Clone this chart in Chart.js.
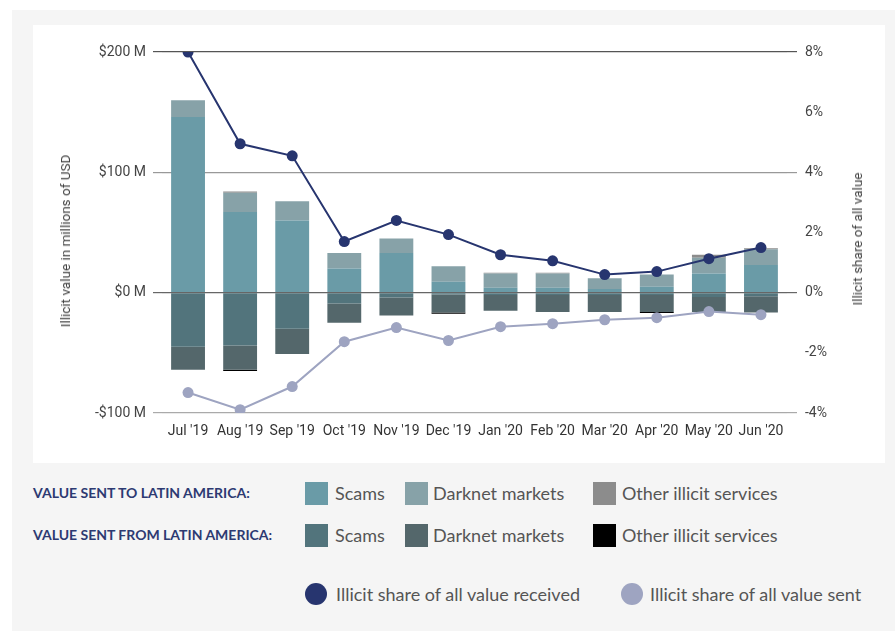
<!DOCTYPE html>
<html>
<head>
<meta charset="utf-8">
<script src="https://cdn.jsdelivr.net/npm/chart.js@4.4.1/dist/chart.umd.min.js"></script>
<style>
	body { margin: 0; background: #fff; width: 895px; height: 631px; overflow: hidden; position: relative; }
	#bg { position: absolute; left: 12px; top: 10px; width: 883px; height: 621px; background: #f5f5f5; }
	#panel { position: absolute; left: 33px; top: 25px; width: 852px; height: 438px; background: #fff; }
	.ytitle { position: absolute; font: 13.5px Roboto, sans-serif; color: #444; white-space: nowrap; transform: translate(-50%, -50%) rotate(-90deg); }
	.hdr { position: absolute; left: 33px; font: bold 14px Lato, sans-serif; color: #2d3a72; line-height: 16px; white-space: nowrap; }
	.sq { position: absolute; width: 23px; height: 23px; }
	.dot { position: absolute; width: 22px; height: 22px; border-radius: 50%; }
	.lbl { position: absolute; font: 18px Lato, sans-serif; color: #555; line-height: 20px; white-space: nowrap; }
</style>
</head>
<body>
<div id="bg"></div>
<div id="panel"><canvas id="valueChart"></canvas></div>
<div class="ytitle" style="left:65px; top:241px;">Illicit value in millions of USD</div>
<div class="ytitle" style="left:857px; top:239px;">Illicit share of all value</div>
<div id="legend"></div>
<script>
// 월별 라벨
var months = ["Jul '19", "Aug '19", "Sep '19", "Oct '19", "Nov '19", "Dec '19",
	"Jan '20", "Feb '20", "Mar '20", "Apr '20", "May '20", "Jun '20"];

// 라틴아메리카로 보낸 금액 (백만 USD)
var sentToScams = [146, 67, 60, 20, 33, 9, 4, 4, 3, 5, 16, 23];
var sentToDarknet = [14, 16, 16, 13, 12, 13, 12, 12, 9, 10, 13, 13];
var sentToOther = [0, 1, 0, 0, 0, 0, 0.5, 0.5, 0, 0, 2.5, 1];

// 라틴아메리카에서 보낸 금액 (음수로 표시)
var sentFromScams = [-45, -44, -30, -9, -4, -1.5, -2, -2, -2, -2, -3.5, -3];
var sentFromDarknet = [-19, -20, -21, -16, -15, -15, -13, -14, -14, -14, -12.5, -13.5];
var sentFromOther = [0, -1, 0, 0, 0, -1, 0, 0, 0, -1, 0, 0];

// 불법 비중 (%)
var shareReceived = [8.0, 4.95, 4.55, 1.7, 2.4, 1.93, 1.26, 1.06, 0.6, 0.7, 1.13, 1.5];
var shareSent = [-3.32, -3.89, -3.12, -1.63, -1.16, -1.59, -1.13, -1.03, -0.9, -0.83, -0.63, -0.73];

var leftTicks = [-100, 0, 100, 200];
var rightTicks = [-4, -2, 0, 2, 4, 6, 8];

var colors = {
	toScams: '#6a9ba7',
	toDarknet: '#87a2a8',
	toOther: '#8c8c8c',
	fromScams: '#52747c',
	fromDarknet: '#54676b',
	fromOther: '#000000',
	received: '#27356f',
	sent: '#9ea4c1'
};

function gridColor(v) {
	if (v === 200 || v === 8) return '#555';
	if (v === 0) return '#666';
	if (v === 100 || v === 4) return '#999';
	if (v === -100 || v === -4) return '#aaa';
	return 'transparent';
}

function bar(label, data, color) {
	return {
		type: 'bar', label: label, data: data, backgroundColor: color,
		stack: 'value', yAxisID: 'y', order: 2,
		barPercentage: 0.65, categoryPercentage: 1
	};
}

function line(label, data, color) {
	return {
		type: 'line', label: label, data: data, borderColor: color, backgroundColor: color,
		borderWidth: 2, pointRadius: 5.5, pointBorderWidth: 0, pointBackgroundColor: color,
		yAxisID: 'y1', order: 0, tension: 0
	};
}

function drawChart() {
	var chartArea = document.getElementById('valueChart').getContext('2d');
	var myChart = new Chart(chartArea, {
		data: {
			labels: months,
			datasets: [
				line('Illicit share of all value received', shareReceived, colors.received),
				line('Illicit share of all value sent', shareSent, colors.sent),
				bar('Scams (to)', sentToScams, colors.toScams),
				bar('Darknet markets (to)', sentToDarknet, colors.toDarknet),
				bar('Other illicit services (to)', sentToOther, colors.toOther),
				bar('Scams (from)', sentFromScams, colors.fromScams),
				bar('Darknet markets (from)', sentFromDarknet, colors.fromDarknet),
				bar('Other illicit services (from)', sentFromOther, colors.fromOther)
			]
		},
		options: {
			responsive: true,
			maintainAspectRatio: false,
			animation: false,
			layout: { padding: { left: 44, right: 0, top: 27, bottom: 0 } },
			plugins: { legend: { display: false }, tooltip: { enabled: false } },
			scales: {
				x: {
					offset: true,
					grid: { display: false, drawTicks: false },
					border: { display: false },
					ticks: { color: '#333', font: { family: 'Roboto', size: 14 }, padding: 10, maxRotation: 0, autoSkip: false },
					afterFit: function(s) { s.height = 50; }
				},
				y: {
					position: 'left',
					stacked: true,
					min: -100, max: 200,
					afterBuildTicks: function(s) { s.ticks = leftTicks.map(function(v) { return { value: v }; }); },
					afterFit: function(s) { s.width = 85; },
					grid: {
						color: function(c) { return gridColor(c.tick.value); },
						lineWidth: 1.2, tickLength: 9
					},
					border: { display: false },
					ticks: {
						color: '#444', font: { family: 'Roboto', size: 14 }, padding: 7,
						callback: function(v) { return (v < 0 ? '-$' + Math.abs(v) : '$' + v) + ' M'; }
					}
				},
				y1: {
					position: 'right',
					min: -4, max: 8,
					afterBuildTicks: function(s) { s.ticks = rightTicks.map(function(v) { return { value: v }; }); },
					afterFit: function(s) { s.width = 98; },
					grid: {
						drawOnChartArea: false,
						color: function(c) { return gridColor(c.tick.value); },
						lineWidth: 1.2, tickLength: 10
					},
					border: { display: false },
					ticks: {
						color: '#444', font: { family: 'Roboto', size: 14 }, padding: 8,
						callback: function(v) { return v + '%'; }
					}
				}
			}
		}
	});
}

// 범례는 HTML로 그린다
var legendRows = [
	{ title: 'VALUE SENT TO LATIN AMERICA:', y: 493, items: [['Scams', colors.toScams], ['Darknet markets', colors.toDarknet], ['Other illicit services', colors.toOther]] },
	{ title: 'VALUE SENT FROM LATIN AMERICA:', y: 535, items: [['Scams', colors.fromScams], ['Darknet markets', colors.fromDarknet], ['Other illicit services', colors.fromOther]] }
];
var itemX = [[305, 335], [405, 433], [593, 622]];
var html = '';
legendRows.forEach(function(row) {
	html += '<div class="hdr" style="top:' + (row.y - 8) + 'px">' + row.title + '</div>';
	row.items.forEach(function(it, i) {
		html += '<div class="sq" style="left:' + itemX[i][0] + 'px;top:' + (row.y - 11) + 'px;background:' + it[1] + '"></div>';
		html += '<div class="lbl" style="left:' + itemX[i][1] + 'px;top:' + (row.y - 10) + 'px">' + it[0] + '</div>';
	});
});
var lineItems = [['Illicit share of all value received', colors.received, 305, 336], ['Illicit share of all value sent', colors.sent, 621, 650]];
lineItems.forEach(function(it) {
	html += '<div class="dot" style="left:' + it[2] + 'px;top:583px;background:' + it[1] + '"></div>';
	html += '<div class="lbl" style="left:' + it[3] + 'px;top:584px">' + it[0] + '</div>';
});
document.getElementById('legend').innerHTML = html;

// 폰트가 로드된 후 차트를 그린다
document.fonts.load('14px Roboto').then(drawChart, drawChart);
</script>
</body>
</html>
